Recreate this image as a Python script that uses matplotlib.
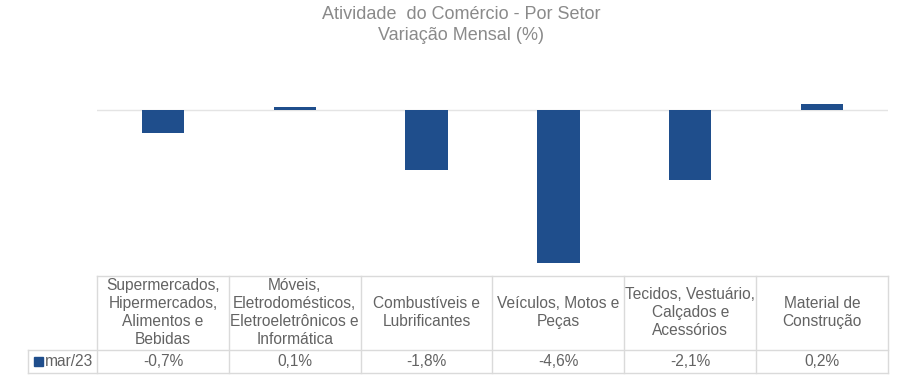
import matplotlib
matplotlib.use("Agg")
import matplotlib.pyplot as plt

plt.rcParams['font.family'] = ['Liberation Sans', 'DejaVu Sans']

# data
setores = ["Supermercados,\nHipermercados,\nAlimentos e\nBebidas",
           "Móveis,\nEletrodomésticos,\nEletroeletrônicos e\nInformática",
           "Combustíveis e\nLubrificantes",
           "Veículos, Motos e\nPeças",
           "Tecidos, Vestuário,\nCalçados e\nAcessórios",
           "Material de\nConstrução"]
var_mar23 = [-0.7, 0.1, -1.8, -4.6, -2.1, 0.2]
serie = "mar/23"

W, H = 907, 382
bar_col = '#1f4e8c'
txt_col = '#636363'
grid_col = '#dadada'

fig = plt.figure(figsize=(W / 100, H / 100), dpi=100)

# plot area (pixel bounds from the reference)
x0, x1 = 97, 888
ytop, ybot = 77, 276
ax = fig.add_axes([x0 / W, 1 - ybot / H, (x1 - x0) / W, (ybot - ytop) / H])
xs = list(range(len(setores)))
ax.axhline(0, color='#e4e4e4', lw=1, zorder=1)
ax.bar(xs, var_mar23, width=0.32, color=bar_col, zorder=2)
ax.set_xlim(-0.5, len(setores) - 0.5)
ax.set_ylim(-5, 1)
ax.axis('off')

# data table below
y_head, y_mid, y_end = 276, 350, 373
x_lab = 28
tb = fig.add_axes([x0 / W, 1 - y_end / H, (x1 - x0) / W, (y_end - y_head) / H])
tb.set_xlim(-0.5, len(setores) - 0.5)
tb.set_ylim(y_end, y_head)
tb.axis('off')
col_w = 1.0 * len(setores) / (x1 - x0)  # data units per pixel
xl = -0.5 - (x0 - x_lab) * col_w

lk = dict(color=grid_col, lw=1, clip_on=False)
tb.plot([-0.5, len(setores) - 0.5], [y_head, y_head], **lk)
tb.plot([xl, len(setores) - 0.5], [y_mid, y_mid], **lk)
tb.plot([xl, len(setores) - 0.5], [y_end, y_end], **lk)
tb.plot([xl, xl], [y_mid, y_end], **lk)
for i in range(len(setores) + 1):
    tb.plot([i - 0.5, i - 0.5], [y_head, y_end], **lk)

for i, (s, v) in enumerate(zip(setores, var_mar23)):
    tb.text(i, (y_head + y_mid) / 2 - 0.5, s, ha='center', va='center',
            fontsize=11.2, color=txt_col, linespacing=1.27)
    lab = f"{v:.1f}%".replace('.', ',')
    tb.text(i, (y_mid + y_end) / 2 + 0.5, lab, ha='center', va='center',
            fontsize=11.2, color=txt_col)

# legend key in row header
tb.add_patch(plt.Rectangle((xl + 6 * col_w, 366), 9 * col_w, -9,
                           color=bar_col, clip_on=False))
tb.text(xl + 17 * col_w, (y_mid + y_end) / 2 + 0.5, serie, ha='left', va='center',
        fontsize=11.2, color=txt_col)

fig.text(461 / W, 1 - 25 / H, "Atividade  do Comércio - Por Setor\nVariação Mensal (%)",
         ha='center', va='center', fontsize=13, color='#8a8a8a', linespacing=1.3)

fig.savefig("out.png", dpi=100)
